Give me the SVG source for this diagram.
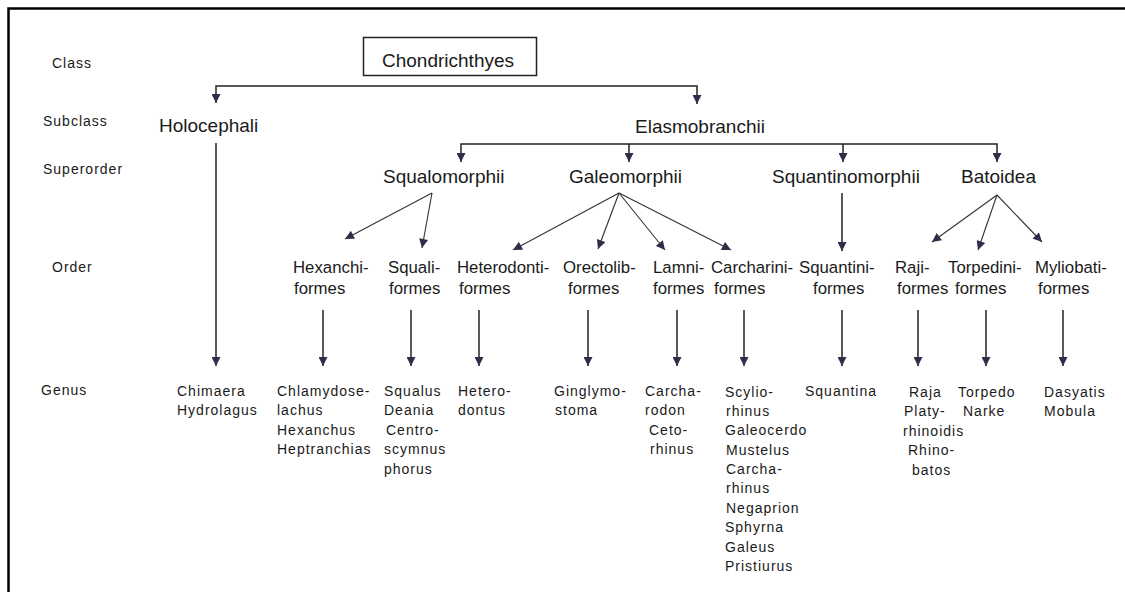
<svg xmlns="http://www.w3.org/2000/svg" width="1125" height="592" viewBox="0 0 1125 592">
<style>
text{font-family:"Liberation Sans",Arial,sans-serif;fill:#1a1a1a}
.big{font-size:19px}
.ord{font-size:16.8px}
.sm{font-size:14px;letter-spacing:1px}
.ln{fill:none;stroke:#222;stroke-width:1.5}
.dg{fill:none;stroke:#333;stroke-width:1.1}
</style>
<defs>
<marker id="ah" viewBox="0 0 10 10" refX="10" refY="5" markerUnits="userSpaceOnUse" markerWidth="10" markerHeight="9" orient="auto">
<path d="M0,0 L10,5 L0,10 z" fill="#2e2e48"/>
</marker>
</defs>
<rect width="1125" height="592" fill="#fff"/>
<path d="M8.5,592 V8.5 H1125" fill="none" stroke="#000" stroke-width="2.5"/>

<g id="levels">
<text class="sm" x="52" y="68">Class</text>
<text class="sm" x="43" y="126">Subclass</text>
<text class="sm" x="43" y="174">Superorder</text>
<text class="sm" x="52" y="272">Order</text>
<text class="sm" x="41" y="395">Genus</text>
</g>

<g id="connectors">
<path class="ln" d="M456,86 H216 V103" marker-end="url(#ah)"/>
<path class="ln" d="M456,86 H697 V104" marker-end="url(#ah)"/>
<path class="ln" d="M216,143 V366" marker-end="url(#ah)"/>
<path class="ln" d="M629,144 H461 V162" marker-end="url(#ah)"/>
<path class="ln" d="M629,144 V162" marker-end="url(#ah)"/>
<path class="ln" d="M629,144 H997 V162" marker-end="url(#ah)"/>
<path class="ln" d="M843,144 V162" marker-end="url(#ah)"/>
<path class="dg" d="M432,193 L345,239" marker-end="url(#ah)"/>
<path class="dg" d="M432,193 L422,248" marker-end="url(#ah)"/>
<path class="dg" d="M619,193 L513,250" marker-end="url(#ah)"/>
<path class="dg" d="M619,193 L598,249" marker-end="url(#ah)"/>
<path class="dg" d="M619,193 L665,250" marker-end="url(#ah)"/>
<path class="dg" d="M619,193 L731,250" marker-end="url(#ah)"/>
<path class="ln" d="M842,193 V251" marker-end="url(#ah)"/>
<path class="dg" d="M997,195 L932,242" marker-end="url(#ah)"/>
<path class="dg" d="M997,195 L978,250" marker-end="url(#ah)"/>
<path class="dg" d="M997,195 L1042,242" marker-end="url(#ah)"/>
<path class="ln" d="M323,310 V366" marker-end="url(#ah)"/>
<path class="ln" d="M411,310 V366" marker-end="url(#ah)"/>
<path class="ln" d="M479,310 V366" marker-end="url(#ah)"/>
<path class="ln" d="M588,310 V366" marker-end="url(#ah)"/>
<path class="ln" d="M677,310 V366" marker-end="url(#ah)"/>
<path class="ln" d="M744,310 V366" marker-end="url(#ah)"/>
<path class="ln" d="M842,310 V366" marker-end="url(#ah)"/>
<path class="ln" d="M918,310 V366" marker-end="url(#ah)"/>
<path class="ln" d="M986,310 V366" marker-end="url(#ah)"/>
<path class="ln" d="M1063,310 V366" marker-end="url(#ah)"/>
</g>

<g id="chondrichthyes">
<rect x="363.5" y="37.5" width="173" height="38" fill="none" stroke="#222" stroke-width="1.5"/>
<text class="big" x="382" y="67">Chondrichthyes</text>
</g>
<g id="holocephali"><text class="big" x="159" y="132">Holocephali</text></g>
<g id="elasmobranchii"><text class="big" x="635" y="133">Elasmobranchii</text></g>
<g id="squalomorphii"><text class="big" x="383" y="183">Squalomorphii</text></g>
<g id="galeomorphii"><text class="big" x="569" y="183">Galeomorphii</text></g>
<g id="squantinomorphii"><text class="big" x="772" y="183">Squantinomorphii</text></g>
<g id="batoidea"><text class="big" x="961" y="183">Batoidea</text></g>

<g id="hexanchiformes"><text class="ord" x="293" y="273">Hexanchi-</text><text class="ord" x="294" y="294">formes</text></g>
<g id="squaliformes"><text class="ord" x="388" y="273">Squali-</text><text class="ord" x="389" y="294">formes</text></g>
<g id="heterodontiformes"><text class="ord" x="457" y="273">Heterodonti-</text><text class="ord" x="459" y="294">formes</text></g>
<g id="orectolobiformes"><text class="ord" x="563" y="273">Orectolib-</text><text class="ord" x="568" y="294">formes</text></g>
<g id="lamniformes"><text class="ord" x="653" y="273">Lamni-</text><text class="ord" x="653" y="294">formes</text></g>
<g id="carcharhiniformes"><text class="ord" x="711" y="273">Carcharini-</text><text class="ord" x="714" y="294">formes</text></g>
<g id="squatiniformes"><text class="ord" x="799" y="273">Squantini-</text><text class="ord" x="813" y="294">formes</text></g>
<g id="rajiformes"><text class="ord" x="895" y="273">Raji-</text><text class="ord" x="897" y="294">formes</text></g>
<g id="torpediniformes"><text class="ord" x="948" y="273">Torpedini-</text><text class="ord" x="955" y="294">formes</text></g>
<g id="myliobatiformes"><text class="ord" x="1035" y="273">Myliobati-</text><text class="ord" x="1038" y="294">formes</text></g>

<g id="genus-holocephali">
<text class="sm" x="177" y="396">Chimaera</text>
<text class="sm" x="177" y="415">Hydrolagus</text>
</g>
<g id="genus-hexanchi">
<text class="sm" x="277" y="396">Chlamydose-</text>
<text class="sm" x="277" y="415">lachus</text>
<text class="sm" x="277" y="435">Hexanchus</text>
<text class="sm" x="277" y="454">Heptranchias</text>
</g>
<g id="genus-squali">
<text class="sm" x="384" y="396">Squalus</text>
<text class="sm" x="384" y="415">Deania</text>
<text class="sm" x="386" y="435">Centro-</text>
<text class="sm" x="384" y="454">scymnus</text>
<text class="sm" x="384" y="474">phorus</text>
</g>
<g id="genus-hetero">
<text class="sm" x="458" y="396">Hetero-</text>
<text class="sm" x="458" y="415">dontus</text>
</g>
<g id="genus-orecto">
<text class="sm" x="554" y="396">Ginglymo-</text>
<text class="sm" x="555" y="415">stoma</text>
</g>
<g id="genus-lamni">
<text class="sm" x="645" y="396">Carcha-</text>
<text class="sm" x="645" y="415">rodon</text>
<text class="sm" x="649" y="435">Ceto-</text>
<text class="sm" x="650" y="454">rhinus</text>
</g>
<g id="genus-carcharini">
<text class="sm" x="725" y="397">Scylio-</text>
<text class="sm" x="726" y="416">rhinus</text>
<text class="sm" x="725" y="435">Galeocerdo</text>
<text class="sm" x="726" y="455">Mustelus</text>
<text class="sm" x="726" y="474">Carcha-</text>
<text class="sm" x="726" y="493">rhinus</text>
<text class="sm" x="726" y="513">Negaprion</text>
<text class="sm" x="725" y="532">Sphyrna</text>
<text class="sm" x="725" y="552">Galeus</text>
<text class="sm" x="725" y="571">Pristiurus</text>
</g>
<g id="genus-squantini"><text class="sm" x="805" y="396">Squantina</text></g>
<g id="genus-raji">
<text class="sm" x="909" y="397">Raja</text>
<text class="sm" x="904" y="416">Platy-</text>
<text class="sm" x="903" y="436">rhinoidis</text>
<text class="sm" x="908" y="455">Rhino-</text>
<text class="sm" x="912" y="475">batos</text>
</g>
<g id="genus-torpedini">
<text class="sm" x="958" y="397">Torpedo</text>
<text class="sm" x="963" y="416">Narke</text>
</g>
<g id="genus-mylio">
<text class="sm" x="1044" y="397">Dasyatis</text>
<text class="sm" x="1044" y="416">Mobula</text>
</g>
</svg>
